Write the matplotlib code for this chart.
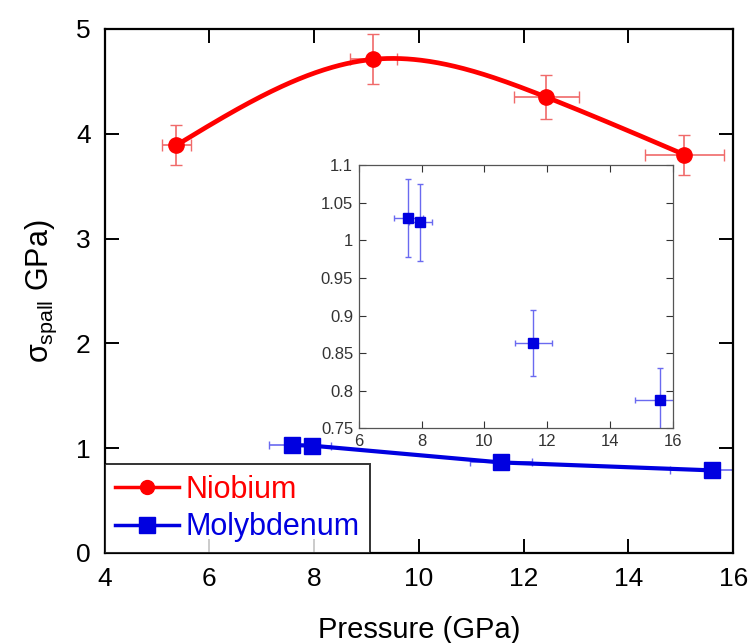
import numpy as np
import matplotlib
matplotlib.use("Agg")
import matplotlib.pyplot as plt

plt.rcParams["font.family"] = ["Liberation Sans", "DejaVu Sans"]
plt.rcParams["mathtext.fontset"] = "custom"
plt.rcParams["mathtext.rm"] = "Liberation Sans"
plt.rcParams["mathtext.it"] = "Liberation Sans"

# Niobium (pressure GPa, spall strength GPa)
nb_p = [5.37, 9.13, 12.43, 15.07]
nb_s = [3.89, 4.71, 4.35, 3.80]
nb_perr = [0.28, 0.45, 0.62, 0.76]
nb_serr = [0.19, 0.24, 0.21, 0.19]

# Molybdenum
mo_p = [7.58, 7.96, 11.56, 15.6]
mo_s = [1.030, 1.024, 0.864, 0.788]
mo_perr = [0.45, 0.37, 0.59, 0.8]
mo_serr = [0.052, 0.051, 0.044, 0.042]

RED = "#ff0000"
BLUE = "#0000e0"


def natural_spline(x, y, xs):
    # natural cubic spline through the given points
    x = np.asarray(x, float)
    y = np.asarray(y, float)
    n = len(x)
    h = np.diff(x)
    A = np.zeros((n, n))
    b = np.zeros(n)
    A[0, 0] = A[-1, -1] = 1
    for i in range(1, n - 1):
        A[i, i - 1] = h[i - 1]
        A[i, i] = 2 * (h[i - 1] + h[i])
        A[i, i + 1] = h[i]
        b[i] = 3 * ((y[i + 1] - y[i]) / h[i] - (y[i] - y[i - 1]) / h[i - 1])
    c = np.linalg.solve(A, b)
    out = np.empty_like(xs)
    for k, xv in enumerate(xs):
        i = min(np.searchsorted(x, xv, side="right") - 1, n - 2)
        i = max(i, 0)
        dx = xv - x[i]
        bi = (y[i + 1] - y[i]) / h[i] - h[i] * (2 * c[i] + c[i + 1]) / 3
        di = (c[i + 1] - c[i]) / (3 * h[i])
        out[k] = y[i] + bi * dx + c[i] * dx ** 2 + di * dx ** 3
    return out


fig = plt.figure(figsize=(7.52, 6.43), dpi=100)
ax = fig.add_axes([0.139, 0.140, 0.836, 0.815])

xs = np.linspace(min(nb_p), max(nb_p), 300)
ax.plot(xs, natural_spline(nb_p, nb_s, xs), color=RED, lw=3.4, zorder=3)
ax.errorbar(nb_p, nb_s, xerr=nb_perr, yerr=nb_serr, fmt="none",
            ecolor="#f06a6a", elinewidth=1.2, capsize=4, zorder=2)
ax.plot(nb_p, nb_s, "o", color=RED, ms=11, zorder=4)
h_nb, = ax.plot([], [], "-o", color=RED, lw=2.5, ms=10)

ax.plot(mo_p, mo_s, "-", color=BLUE, lw=3.0, zorder=3)
ax.errorbar(mo_p, mo_s, xerr=mo_perr, yerr=mo_serr, fmt="none",
            ecolor="#6a6af0", elinewidth=1.2, capsize=3, zorder=2)
ax.plot(mo_p, mo_s, "s", color=BLUE, ms=11, zorder=4)
h_mo, = ax.plot([], [], "-s", color=BLUE, lw=2.5, ms=11)

ax.set_xlim(4, 16)
ax.set_ylim(0, 5)
ax.set_xticks(range(4, 17, 2))
ax.set_yticks(range(0, 6))
ax.tick_params(direction="in", length=10, width=1.4, top=True, right=True,
               labelsize=19, pad=10)
for s in ax.spines.values():
    s.set_linewidth(1.6)
ax.set_xlabel("Pressure (GPa)", fontsize=21, labelpad=18)
ax.set_ylabel(r"$\sigma_{\mathrm{spall}}$ GPa)", fontsize=22, labelpad=12)

leg = ax.legend([h_nb, h_mo], ["Niobium", "Molybdenum"], loc="lower left",
                fontsize=22, frameon=True, fancybox=False, borderaxespad=0,
                handlelength=2.1, handletextpad=0.2, borderpad=0.35,
                labelspacing=0.25)
leg.get_frame().set_edgecolor("black")
leg.get_frame().set_linewidth(1.4)
for t, c in zip(leg.get_texts(), [RED, BLUE]):
    t.set_color(c)
leg.set_zorder(5)

# inset
axi = fig.add_axes([0.477, 0.334, 0.418, 0.409])
axi.errorbar(mo_p, mo_s, xerr=mo_perr, yerr=mo_serr, fmt="none",
             ecolor="#6a6af0", elinewidth=1.0, capsize=2)
axi.plot(mo_p, mo_s, "s", color=BLUE, ms=7)
axi.set_xlim(6, 16)
axi.set_ylim(0.75, 1.1)
axi.set_xticks(range(6, 17, 2))
axi.set_yticks([0.75, 0.8, 0.85, 0.9, 0.95, 1.0, 1.05, 1.1])
axi.set_yticklabels(["0.75", "0.8", "0.85", "0.9", "0.95", "1", "1.05", "1.1"])
axi.tick_params(direction="in", length=5, width=0.8, top=True, right=True,
                labelsize=12, colors="#333333", pad=4)
for s in axi.spines.values():
    s.set_color("#555555")
    s.set_linewidth(0.9)

fig.savefig("out.png", dpi=100)
